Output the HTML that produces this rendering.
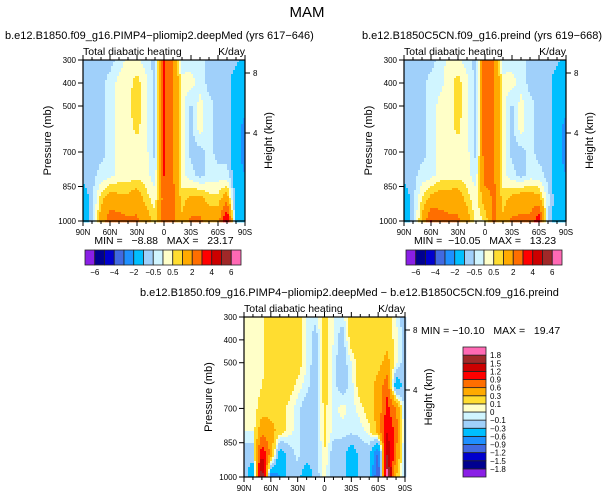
<!DOCTYPE html>
<html><head><meta charset="utf-8"><style>
html,body{margin:0;padding:0;background:#fff;width:615px;height:496px;overflow:hidden}
svg{display:block;font-family:"Liberation Sans",sans-serif}
text{white-space:pre}
</style></head><body>
<svg id="chart" width="615" height="496" viewBox="0 0 615 496" xmlns="http://www.w3.org/2000/svg">
<text x="307" y="17" font-size="15" text-anchor="middle">MAM</text>
</svg>
<script>
// ---- data ----
const lats = [90,80,70,60,50,40,30,20,10,0,-10,-20,-30,-40,-50,-60,-70,-80,-90];
const pressures = [300,400,500,600,700,800,900,1000];
const pTicks = [300,400,500,700,850,1000];
const latTicks = [90,60,30,0,-30,-60,-90];
const latTickLabels = ["90N","60N","30N","0","30S","60S","90S"];
const palette = ["#8a1fe6","#000090","#0000cd","#4169e1","#1e90ff","#00bfff","#a0d0fa","#d0f5ff","#ffffc8","#ffdd30","#ffaa00","#ff6e00","#ff0000","#cc0000","#a02828","#ff69b4"];
const levelsAbs = [-6,-5,-4,-3,-2,-1,-0.5,0,0.5,1,2,3,4,5,6];
const levelsAbsLabels = ["-6","","-4","","-2","","-0.5","","0.5","","2","","4","","6"];
const levelsDiff = [-1.8,-1.5,-1.2,-0.9,-0.6,-0.3,-0.1,0,0.1,0.3,0.6,0.9,1.2,1.5,1.8];
const levelsDiffLabels = ["-1.8","-1.5","-1.2","-0.9","-0.6","-0.3","-0.1","0","0.1","0.3","0.6","0.9","1.2","1.5","1.8"];
const field1 = [
[-0.7,-0.7,-0.7,-0.7,-0.3,0.2,0.2,-0.3,-0.7,3.2,2.2,-0.3,-0.2,-0.3,-0.7,-0.7,-0.7,-0.8,-1.5],
[-0.7,-0.7,-0.7,-0.3,0.2,0.3,0.7,0.2,-0.7,3.2,2.2,0.2,0.2,-0.2,-0.7,-0.7,-0.7,-1.5,-1.5],
[-0.7,-0.7,-0.7,-0.3,0.2,0.4,0.8,0.2,-0.7,3.2,2.2,0.2,-0.6,0.2,-0.3,-0.7,-0.7,-1.5,-1.5],
[-0.7,-0.7,-0.7,-0.3,0.2,0.3,0.6,0.2,-0.7,3.2,2.2,0.2,-0.7,0.2,-0.3,-0.7,-0.7,-1.5,-2.5],
[-0.7,-0.7,-0.7,-0.3,0.2,0.3,0.3,0.2,-0.7,3.2,2.2,0.2,-0.7,-0.7,-0.3,-0.7,-0.7,-1.5,-2.5],
[-0.7,-0.7,-0.3,-0.2,0.2,0.2,0.3,0.2,-0.3,3.0,2.2,0.2,-0.3,-0.7,-0.3,-0.3,-0.3,-1.5,-2],
[-1.5,-0.7,0.7,1.5,1.2,1.2,1.5,0.7,0.2,2.5,2.2,0.7,1.2,1.2,0.7,0.7,1.5,-1.5,-1.5],
[-1.5,-0.7,1.5,2.5,2.5,2.2,2.2,1.5,0.7,2.5,2.2,1.2,2.2,2.2,1.5,1.5,4.5,-1.5,-1.5]];
const field2 = [
[-0.7,-0.7,-0.7,-0.7,-0.3,0.2,0.2,-0.3,-0.7,2.8,2.2,-0.3,-0.2,-0.3,-0.7,-0.7,-0.7,-0.8,-1.5],
[-0.7,-0.7,-0.7,-0.3,-0.2,0.3,0.7,0.2,-0.7,2.8,2.2,0.2,0.2,-0.2,-0.7,-0.7,-0.7,-1.5,-1.5],
[-0.7,-0.7,-0.7,-0.3,0.2,0.3,0.7,0.2,-0.7,2.8,2.2,0.2,-0.6,0.2,-0.3,-0.7,-0.7,-1.5,-1.5],
[-0.7,-0.7,-0.7,-0.3,0.2,0.3,0.6,0.2,-0.7,2.8,2.2,0.2,-0.7,0.2,-0.3,-0.7,-0.7,-1.5,-2.5],
[-0.7,-0.7,-0.7,-0.3,0.2,0.3,0.3,0.2,-0.7,2.8,2.2,0.2,-0.7,-0.7,-0.3,-0.7,-0.7,-1.5,-2.5],
[-0.7,-0.7,-0.3,-0.2,0.2,0.2,0.3,0.2,-0.3,2.5,2.2,0.2,-0.3,-0.7,-0.3,-0.3,-0.7,-1.5,-2],
[-1.5,-0.7,0.5,1.2,1.5,1.5,1.5,0.7,0.2,1.5,2.2,0.7,1.2,1.5,1.5,1.2,-0.3,-1.5,-1.5],
[-1.5,-0.7,1.2,3.0,2.5,2.2,2.2,1.5,0.2,0.5,2.2,1.2,2.2,2.2,2.2,3.8,-0.5,-1.5,-1.5]];
const field3 = [
[0,0,0.05,0.2,0.2,0.15,0.2,0,-0.05,0.2,0,-0.05,0.2,0.2,0.2,0.2,0.2,0,-0.2],
[0,0,0.05,0.2,0.2,0.2,0.2,0,-0.2,0.2,0,-0.2,0.2,0.2,0.2,0.2,0.2,0.05,-0.2],
[0,0,0.05,0.2,0.2,0.2,0.2,0,-0.2,0.2,-0.05,-0.2,0,0.2,0.2,0.2,0.4,0.05,-0.2],
[0,0,0.1,0.2,0.2,0.2,0.05,-0.05,-0.2,0.2,-0.05,-0.2,-0.05,0.2,0.2,0.4,0.8,-0.5,-0.2],
[0,0,0.2,0.2,0.2,0.05,-0.05,-0.2,-0.2,0.15,-0.05,0.05,-0.05,0.05,0.2,0.4,1.0,0.6,-0.2],
[0,0,0.5,0.4,0.2,0.05,-0.05,-0.2,-0.2,0.15,-0.05,-0.05,-0.05,-0.05,0.05,0.4,1.2,0.8,-0.2],
[-0.2,-0.2,1.2,0.5,-0.5,-0.2,-0.05,-0.2,-0.2,0.1,-0.2,-0.2,-0.5,-0.2,-0.2,-1.0,1.5,0.6,-0.2],
[-0.2,-0.5,1.9,-0.8,-0.6,-0.2,-0.2,-0.5,-0.2,0.05,-0.2,-0.2,-0.5,-0.2,-0.2,-1.3,2.0,0.3,-0.2]];

const NS="http://www.w3.org/2000/svg";
const svg=document.getElementById('chart');
function el(tag,attrs,parent){const e=document.createElementNS(NS,tag);for(const k in attrs)e.setAttribute(k,attrs[k]);(parent||svg).appendChild(e);return e;}
function txt(s,x,y,size,anchor,parent){const t=el('text',{x:x,y:y,'font-size':size,'text-anchor':anchor||'start'},parent);t.textContent=s;return t;}
function colorFor(v,levels){let i=0;while(i<levels.length&&v>=levels[i])i++;return palette[i];}
function sample(field,lat,p){
  let fi=(90-lat)/10, fj=(p-300)/100;
  fi=Math.max(0,Math.min(18,fi)); fj=Math.max(0,Math.min(7,fj));
  const i0=Math.min(17,Math.floor(fi)), j0=Math.min(6,Math.floor(fj));
  const a=fi-i0,b=fj-j0;
  return (field[j0][i0]*(1-a)+field[j0][i0+1]*a)*(1-b)+(field[j0+1][i0]*(1-a)+field[j0+1][i0+1]*a)*b;
}
function panel(name,L,T,W,H,field,levels,title,titleX){
  const g=el('g',{});
  
  
  const xS=lat=>L+(90-lat)/180*W;
  const yS=p=>T+(p-300)/700*H;
  const step=2;
  const cells=el('g',{},g);
  
  
  for(let x=0;x<W;x+=step){for(let y=0;y<H;y+=step){
    const lat=90-(x+step/2)/W*180, p=300+(y+step/2)/H*700;
    const r=el('rect',{x:L+x,y:T+y,width:step+0.3,height:step+0.3,fill:colorFor(sample(field,lat,p),levels)},cells);
    
    
  }}
  const frame=el('rect',{x:L,y:T,width:W,height:H,fill:'none',stroke:'#000','stroke-width':1.2},g);
  
  
  for(let lat=90;lat>=-90;lat-=10){
    const major=lat%30===0, x=xS(lat), len=major?5:3;
    el('line',{x1:x,y1:T+H,x2:x,y2:T+H+len,stroke:'#000','stroke-width':1},g);
    el('line',{x1:x,y1:T,x2:x,y2:T-len,stroke:'#000','stroke-width':1},g);
  }
  latTicks.forEach((lat,i)=>{const t=txt(latTickLabels[i],xS(lat),T+H+14,8,'middle',g);});
  pTicks.forEach(p=>{const y=yS(p);el('line',{x1:L-5,y1:y,x2:L,y2:y,stroke:'#000','stroke-width':1},g);
    const t=txt(String(p),L-7,y+3,8,'end',g);});
  [[8,T+13],[4,T+73]].forEach(h=>{el('line',{x1:L+W,y1:h[1],x2:L+W+5,y2:h[1],stroke:'#000','stroke-width':1},g);
    const t=txt(String(h[0]),L+W+8,h[1]+3,8,'start',g);});
  const yt=txt('Pressure (mb)',0,0,11,'middle',g);yt.setAttribute('transform',`translate(${L-32},${T+H/2}) rotate(-90)`);
  
  const ht=txt('Height (km)',0,0,11,'middle',g);ht.setAttribute('transform',`translate(${L+W+27},${T+H/2}) rotate(-90)`);
  
  const s1=txt('Total diabatic heating',L,T-5,10.5,'start',g);
  const s2=txt('K/day',L+W,T-5,10.5,'end',g);
  const tt=txt(title,titleX,T-21,11,'start',g);
}
function hbar(name,L,T,W,H,levelsLabels){
  const g=el('g',{});
  const bw=W/16;
  palette.forEach((c,i)=>{const r=el('rect',{x:L+i*bw,y:T,width:bw,height:H,fill:c,stroke:'#222','stroke-width':0.8},g);});
  levelsLabels.forEach((s,i)=>{if(s){const t=txt(s.replace('-','\u2212'),L+(i+1)*bw,T+H+10,8,'middle',g);}});
}
function vbar(name,L,T,W,H,levelsLabels){
  const g=el('g',{});
  const bh=H/16;
  palette.forEach((c,i)=>{const r=el('rect',{x:L,y:T+H-(i+1)*bh,width:W,height:bh,fill:c,stroke:'#222','stroke-width':0.8},g);});
  levelsLabels.forEach((s,i)=>{const t=txt(s.replace('-','\u2212'),L+W+4,T+H-(i+1)*bh+3,8,'start',g);});
}
panel('panel-deepmed',83,60,162,161,field1,levelsAbs,'b.e12.B1850.f09_g16.PIMP4\u2212pliomip2.deepMed (yrs 617\u2212646)',5);
panel('panel-preind',404,60,162,161,field2,levelsAbs,'b.e12.B1850C5CN.f09_g16.preind (yrs 619\u2212668)',362);
panel('panel-diff',244,317,161,160,field3,levelsDiff,'b.e12.B1850.f09_g16.PIMP4\u2212pliomip2.deepMed \u2212 b.e12.B1850C5CN.f09_g16.preind',140);
let m=txt('MIN =   \u22128.88   MAX =   23.17',164,244,10.5,'middle');
m=txt('MIN =  \u221210.05   MAX =   13.23',485,244,10.5,'middle');
m=txt('MIN = \u221210.10   MAX =   19.47',421,334,10.5,'start');
hbar('colorbar-deepmed',85,250,156,15,levelsAbsLabels);
hbar('colorbar-preind',406,250,156,15,levelsAbsLabels);
vbar('colorbar-diff',463,347,23,130,levelsDiffLabels);
</script>
</body></html>
